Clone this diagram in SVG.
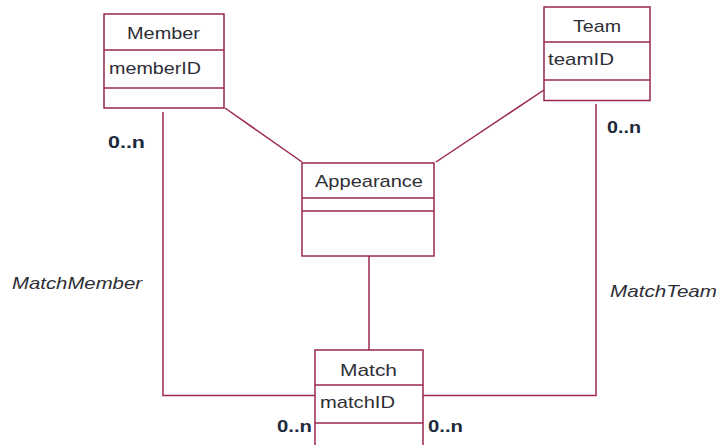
<svg xmlns="http://www.w3.org/2000/svg" width="716" height="445" viewBox="0 0 716 445">
<style>
.box{fill:#ffffff;stroke:#9a2652;stroke-width:1.5}
.ln{stroke:#9a2652;stroke-width:1.5;fill:none}
.t{font-family:"Liberation Sans",Arial,sans-serif;font-size:17px;fill:#2e2e36}
.c{text-anchor:middle}
.m{font-family:"Liberation Sans",Arial,sans-serif;font-size:17px;font-weight:bold;fill:#1c2a3c}
.r{font-family:"Liberation Sans",Arial,sans-serif;font-size:17px;font-style:italic;fill:#2e2e36}
</style>
<rect width="716" height="445" fill="#ffffff"/>
<g id="connectors">
<line class="ln" x1="225" y1="108" x2="302" y2="162"/>
<line class="ln" x1="544" y1="90" x2="436" y2="162"/>
<line class="ln" x1="369" y1="256" x2="369" y2="350"/>
<polyline class="ln" points="163,112 163,395.5 315,395.5"/>
<polyline class="ln" points="596,104 596,395.5 423,395.5"/>
<text class="r" x="12" y="289" textLength="130" lengthAdjust="spacingAndGlyphs">MatchMember</text>
<text class="r" x="610" y="297" textLength="107" lengthAdjust="spacingAndGlyphs">MatchTeam</text>
<text class="m" x="108" y="148" textLength="37" lengthAdjust="spacingAndGlyphs">0..n</text>
<text class="m" x="607" y="133" textLength="34" lengthAdjust="spacingAndGlyphs">0..n</text>
<text class="m" x="277" y="432" textLength="35" lengthAdjust="spacingAndGlyphs">0..n</text>
<text class="m" x="428" y="432" textLength="35" lengthAdjust="spacingAndGlyphs">0..n</text>
</g>
<g id="member">
<rect class="box" x="104" y="14" width="120" height="94"/>
<line class="ln" x1="104" y1="50" x2="224" y2="50"/>
<line class="ln" x1="104" y1="88" x2="224" y2="88"/>
<text class="t" x="127" y="39" textLength="73" lengthAdjust="spacingAndGlyphs">Member</text>
<text class="t" x="109" y="74" textLength="92" lengthAdjust="spacingAndGlyphs">memberID</text>
</g>
<g id="team">
<rect class="box" x="544" y="7" width="106" height="93.5"/>
<line class="ln" x1="544" y1="42" x2="650" y2="42"/>
<line class="ln" x1="544" y1="80" x2="650" y2="80"/>
<text class="t" x="573" y="32" textLength="48" lengthAdjust="spacingAndGlyphs">Team</text>
<text class="t" x="548" y="65" textLength="66" lengthAdjust="spacingAndGlyphs">teamID</text>
</g>
<g id="appearance">
<rect class="box" x="302" y="163" width="132" height="93"/>
<line class="ln" x1="302" y1="198" x2="434" y2="198"/>
<line class="ln" x1="302" y1="211" x2="434" y2="211"/>
<text class="t" x="315" y="187" textLength="108" lengthAdjust="spacingAndGlyphs">Appearance</text>
</g>
<g id="match">
<rect class="box" x="315" y="350" width="108" height="110"/>
<line class="ln" x1="315" y1="385" x2="423" y2="385"/>
<line class="ln" x1="315" y1="423" x2="423" y2="423"/>
<text class="t" x="340" y="376" textLength="57" lengthAdjust="spacingAndGlyphs">Match</text>
<text class="t" x="320" y="408" textLength="75" lengthAdjust="spacingAndGlyphs">matchID</text>
</g>
</svg>
